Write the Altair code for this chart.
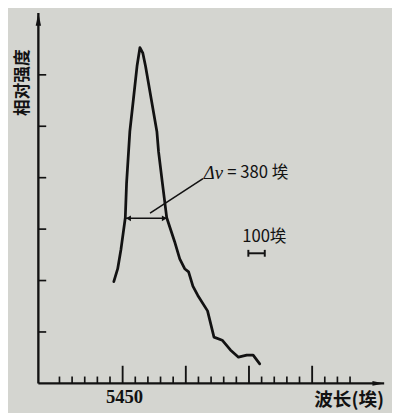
import altair as alt
import pandas as pd

# ---- data ----
wavelength = [5380, 5411, 5437, 5471, 5481, 5497, 5507, 5535, 5564, 5587, 5610,
              5631, 5677, 5721, 5734, 5765, 5799, 5861, 5902, 5941, 5972, 6006,
              6045, 6122, 6173, 6238, 6303, 6367, 6432, 6483, 6535]
intensity = [1.98, 2.23, 2.61, 3.22, 3.89, 4.51, 4.90, 5.52, 6.17, 6.53, 6.42,
             6.17, 5.52, 4.90, 4.51, 3.89, 3.22, 2.76, 2.42, 2.23, 2.17, 1.89,
             1.71, 1.41, 0.90, 0.84, 0.65, 0.51, 0.55, 0.55, 0.38]
x_major_ticks = [5450, 5950, 6450, 6950]
x_minor_ticks = [4950, 5050, 5150, 5250, 5350,
                 5550, 5650, 5750, 5850,
                 6050, 6150, 6250, 6350,
                 6550, 6650, 6750, 6850,
                 7050, 7150, 7250]
y_ticks = [1, 2, 3, 4, 5, 6]
x_tick_label = ["5450"]
fwhm_left, fwhm_right, fwhm_level = 5471, 5805, 3.21
width_label = "380"
scale_bar = [6445, 6575]

X_DOMAIN = [4783, 7520]
Y_DOMAIN = [0, 7.2]
W, H = 353, 378
INK = "#121212"
BG = "#d4d5d0"

xs = alt.Scale(domain=X_DOMAIN, nice=False, zero=False)
ys = alt.Scale(domain=Y_DOMAIN, nice=False, zero=False)

curve_df = pd.DataFrame({"wl": wavelength, "I": intensity, "i": range(len(wavelength))})

curve = alt.Chart(curve_df).mark_line(color=INK, strokeWidth=2.8, strokeJoin="round", strokeCap="round").encode(
    x=alt.X("wl:Q", scale=xs, axis=None),
    y=alt.Y("I:Q", scale=ys, axis=None),
    order="i:Q",
)

# axes
x_axis = alt.Chart(pd.DataFrame({"a": [X_DOMAIN[0]], "b": [X_DOMAIN[1]]})).mark_rule(color=INK, strokeWidth=2.4).encode(
    x=alt.X("a:Q", scale=xs, axis=None), x2="b:Q", y=alt.value(H)
)
y_axis = alt.Chart(pd.DataFrame({"a": [Y_DOMAIN[0]], "b": [Y_DOMAIN[1]]})).mark_rule(color=INK, strokeWidth=2.4).encode(
    y=alt.Y("a:Q", scale=ys, axis=None), y2="b:Q", x=alt.value(0)
)
y_arrow = alt.Chart(pd.DataFrame({"k": [0]})).mark_point(
    shape="M0,-1L-0.42,1L0.42,1Z", size=169, filled=True, color=INK, opacity=1
).encode(x=alt.value(0), y=alt.value(6.5))
x_arrow = alt.Chart(pd.DataFrame({"k": [0]})).mark_point(
    shape="M1,0L-1,-0.42L-1,0.42Z", size=144, filled=True, color=INK, opacity=1
).encode(x=alt.value(W - 6), y=alt.value(H))

minor = alt.Chart(pd.DataFrame({"t": x_minor_ticks})).mark_rule(color=INK, strokeWidth=1.7).encode(
    x=alt.X("t:Q", scale=xs, axis=None), y=alt.value(H), y2=alt.value(H - 7)
)
major = alt.Chart(pd.DataFrame({"t": x_major_ticks})).mark_rule(color=INK, strokeWidth=1.9).encode(
    x=alt.X("t:Q", scale=xs, axis=None), y=alt.value(H), y2=alt.value(H - 18)
)
yt = alt.Chart(pd.DataFrame({"t": y_ticks})).mark_rule(color=INK, strokeWidth=1.7).encode(
    y=alt.Y("t:Q", scale=ys, axis=None), x=alt.value(0), x2=alt.value(8)
)

xlab = alt.Chart(pd.DataFrame({"v": [5465], "s": x_tick_label})).mark_text(
    font="Liberation Serif", fontSize=19, fontWeight="bold", color=INK, baseline="middle", align="center"
).encode(x=alt.X("v:Q", scale=xs, axis=None), y=alt.value(H + 14), text="s:N")

xtitle = alt.Chart(pd.DataFrame({"s": ["波长(埃)"]})).mark_text(
    font="Noto Sans CJK SC", fontSize=19, fontWeight="bold", color=INK, baseline="middle", align="right"
).encode(x=alt.value(W), y=alt.value(H + 17), text="s:N")

ytitle = alt.Chart(pd.DataFrame({"s": ["相对强度"]})).mark_text(
    font="Noto Sans CJK SC", fontSize=17, fontWeight="bold", color=INK, baseline="middle", align="center", angle=270
).encode(x=alt.value(-16), y=alt.value(71), text="s:N")

# FWHM arrow
fw = alt.Chart(pd.DataFrame({"a": [fwhm_left], "b": [fwhm_right], "y": [fwhm_level]})).mark_rule(
    color=INK, strokeWidth=1.6
).encode(x=alt.X("a:Q", scale=xs, axis=None), x2="b:Q", y=alt.Y("y:Q", scale=ys, axis=None))
fw_heads = alt.Chart(pd.DataFrame({"x": [fwhm_left + 25, fwhm_right - 25], "y": [fwhm_level] * 2,
                                   "sh": ["triangle-left", "triangle-right"]})).mark_point(
    filled=True, color=INK, opacity=1, size=34
).encode(x=alt.X("x:Q", scale=xs, axis=None), y=alt.Y("y:Q", scale=ys, axis=None),
         shape=alt.Shape("sh:N", scale=None, legend=None))

leader = alt.Chart(pd.DataFrame({"a": [5667], "b": [6086], "y": [3.31], "y2": [3.98]})).mark_rule(
    color=INK, strokeWidth=1.6
).encode(x=alt.X("a:Q", scale=xs, axis=None), x2="b:Q",
         y=alt.Y("y:Q", scale=ys, axis=None), y2="y2:Q")

dnu = alt.Chart(pd.DataFrame({"x": [6093], "y": [4.08], "s": ["Δν"]})).mark_text(
    font="Liberation Serif", fontStyle="italic", fontSize=19, color=INK, align="left", baseline="middle"
).encode(x=alt.X("x:Q", scale=xs, axis=None), y=alt.Y("y:Q", scale=ys, axis=None), text="s:N")
dnu2 = alt.Chart(pd.DataFrame({"x": [6279], "y": [4.08], "s": ["= " + width_label + "  埃"]})).mark_text(
    font="Noto Sans CJK SC", fontSize=17, color=INK, align="left", baseline="middle"
).encode(x=alt.X("x:Q", scale=xs, axis=None), y=alt.Y("y:Q", scale=ys, axis=None), text="s:N")

sb_label = alt.Chart(pd.DataFrame({"x": [6396], "y": [2.84], "s": ["100埃"]})).mark_text(
    font="Noto Sans CJK SC", fontSize=17, color=INK, align="left", baseline="middle"
).encode(x=alt.X("x:Q", scale=xs, axis=None), y=alt.Y("y:Q", scale=ys, axis=None), text="s:N")
sb = alt.Chart(pd.DataFrame({"a": [scale_bar[0]], "b": [scale_bar[1]], "y": [2.53]})).mark_rule(
    color=INK, strokeWidth=2
).encode(x=alt.X("a:Q", scale=xs, axis=None), x2="b:Q", y=alt.Y("y:Q", scale=ys, axis=None))
sb_caps = alt.Chart(pd.DataFrame({"x": scale_bar, "y": [2.53, 2.53]})).mark_point(
    shape="M0,-1L0,1", size=49, color=INK, strokeWidth=2, opacity=1
).encode(x=alt.X("x:Q", scale=xs, axis=None), y=alt.Y("y:Q", scale=ys, axis=None))

chart = alt.layer(
    x_axis, y_axis, y_arrow, x_arrow, minor, major, yt, xlab, xtitle, ytitle,
    fw, fw_heads, leader, dnu, dnu2, sb_label, sb, sb_caps, curve
).properties(
    width=W, height=H,
    padding={"left": 31, "top": 1, "right": 8, "bottom": 26},
    autosize=alt.AutoSizeParams(type="none"),
    background=BG,
).configure_view(strokeWidth=0)

chart.save("out.html", embed_options={"renderer": "svg", "actions": False})
